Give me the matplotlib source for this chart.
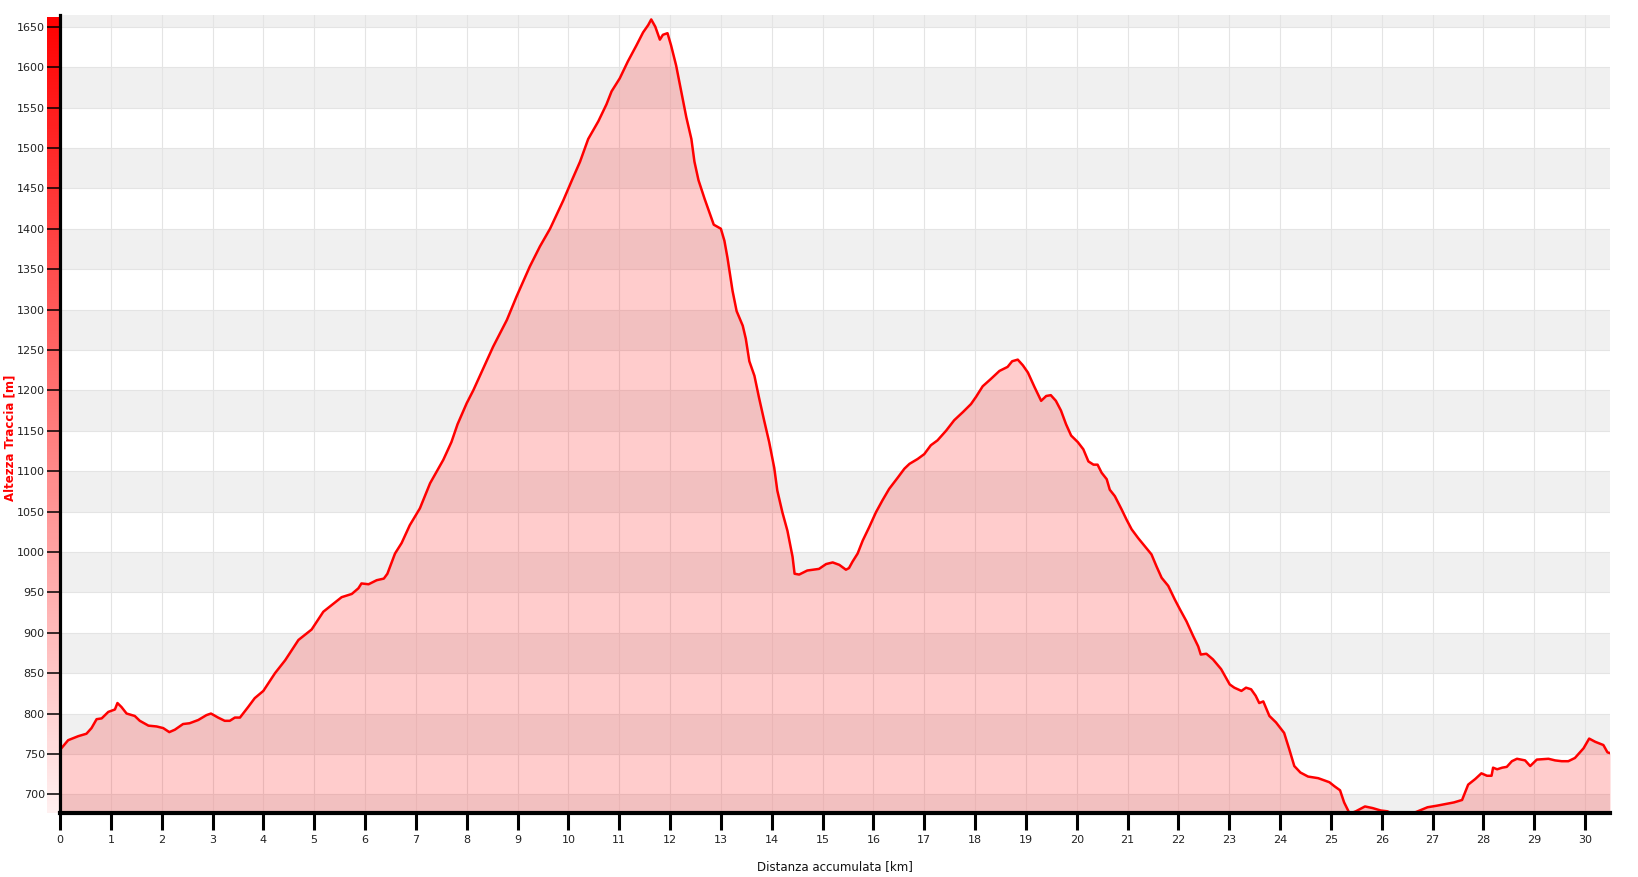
import numpy as np
import matplotlib
matplotlib.use("Agg")
import matplotlib.pyplot as plt

dist_km = [0.00, 0.16, 0.36, 0.52, 0.62, 0.72, 0.82, 0.95, 1.08, 1.13, 1.21, 1.31, 1.47, 1.57,
           1.74, 1.90, 2.03, 2.15, 2.26, 2.42, 2.55, 2.72, 2.88, 2.97, 3.11, 3.24, 3.34, 3.44,
           3.54, 3.70, 3.83, 4.00, 4.23, 4.43, 4.69, 4.95, 5.18, 5.34, 5.54, 5.74, 5.87, 5.93,
           6.07, 6.23, 6.37, 6.44, 6.59, 6.72, 6.88, 7.08, 7.28, 7.54, 7.70, 7.82, 8.00, 8.13,
           8.52, 8.79, 8.98, 9.24, 9.44, 9.64, 9.90, 10.07, 10.23, 10.39, 10.59, 10.75, 10.85,
           11.01, 11.17, 11.34, 11.47, 11.57, 11.63, 11.71, 11.80, 11.86, 11.95, 12.02, 12.12,
           12.22, 12.32, 12.42, 12.48, 12.56, 12.68, 12.78, 12.86, 13.00, 13.07, 13.13, 13.23,
           13.31, 13.43, 13.49, 13.56, 13.66, 13.75, 13.85, 13.95, 14.05, 14.11, 14.21, 14.31,
           14.41, 14.45, 14.54, 14.70, 14.93, 15.07, 15.20, 15.33, 15.46, 15.52, 15.59, 15.69,
           15.79, 15.92, 16.05, 16.18, 16.31, 16.48, 16.61, 16.71, 16.87, 17.00, 17.13, 17.26,
           17.43, 17.59, 17.76, 17.92, 18.02, 18.15, 18.31, 18.48, 18.64, 18.73, 18.84, 18.94,
           19.04, 19.17, 19.30, 19.40, 19.49, 19.59, 19.69, 19.79, 19.89, 20.02, 20.13, 20.23,
           20.33, 20.41, 20.49, 20.59, 20.65, 20.75, 20.88, 20.98, 21.08, 21.21, 21.34, 21.47,
           21.57, 21.67, 21.80, 21.93, 22.03, 22.16, 22.29, 22.39, 22.44, 22.55, 22.68, 22.84,
           23.01, 23.10, 23.24, 23.33, 23.43, 23.52, 23.59, 23.67, 23.79, 23.92, 24.08, 24.18,
           24.28, 24.40, 24.55, 24.75, 24.97, 25.07, 25.18, 25.26, 25.37, 25.49, 25.67, 25.82,
           25.98, 26.11, 26.21, 26.44, 26.67, 26.90, 27.09, 27.25, 27.42, 27.58, 27.70, 27.84,
           27.96, 28.07, 28.16, 28.19, 28.27, 28.37, 28.46, 28.56, 28.66, 28.82, 28.92, 29.05,
           29.28, 29.41, 29.54, 29.67, 29.80, 29.97, 30.08, 30.20, 30.36, 30.44, 30.49]

elev_m = [755, 767, 772, 775, 782, 793, 794, 802, 805, 813, 808, 800, 797, 791,
          785, 784, 782, 777, 780, 787, 788, 792, 798, 800, 795, 791, 791, 795,
          795, 808, 819, 828, 850, 866, 891, 904, 926, 934, 944, 948, 955, 961,
          960, 965, 967, 973, 998, 1011, 1033, 1054, 1085, 1114, 1136, 1158, 1184, 1200,
          1254, 1287, 1316, 1353, 1378, 1400, 1435, 1460, 1483, 1511, 1533, 1554, 1570,
          1586, 1607, 1627, 1643, 1652, 1659, 1650, 1634, 1640, 1642, 1627, 1602,
          1570, 1538, 1511, 1483, 1460, 1437, 1419, 1405, 1400, 1385, 1364, 1323,
          1298, 1280, 1264, 1236, 1218, 1191, 1163, 1136, 1104, 1076, 1049, 1026,
          994, 973, 972, 977, 979, 985, 987, 984, 978, 980, 988, 998,
          1014, 1031, 1049, 1064, 1078, 1092, 1103, 1109, 1115, 1121, 1132, 1138,
          1150, 1163, 1173, 1183, 1192, 1205, 1214, 1224, 1229, 1236, 1238, 1231,
          1222, 1204, 1187, 1193, 1194, 1187, 1175, 1158, 1144, 1136, 1127, 1112,
          1108, 1108, 1098, 1090, 1077, 1069, 1053, 1040, 1028, 1017, 1007, 997,
          982, 968, 958, 941, 929, 914, 896, 883, 873, 874, 867, 855,
          836, 832, 828, 832, 830, 822, 813, 815, 797, 789, 776, 756,
          735, 727, 722, 720, 715, 710, 705, 690, 676, 679, 685, 683,
          680, 679, 676, 676, 678, 684, 686, 688, 690, 693, 712, 719,
          726, 723, 723, 733, 731, 733, 734, 741, 744, 742, 735, 743,
          744, 742, 741, 741, 745, 757, 769, 765, 761, 752, 751]

x_ticks = list(range(0, 31))
y_ticks = list(range(700, 1651, 50))
x_label = "Distanza accumulata [km]"
y_label = "Altezza Traccia [m]"

W, H = 1638, 877
fig = plt.figure(figsize=(W / 100, H / 100), dpi=100)

# gradient bar left of the y axis
gax = fig.add_axes([46.5 / W, (H - 813) / H, 12.5 / W, (813 - 17) / H])
grad = np.zeros((256, 1, 4))
grad[..., 0] = 1.0
grad[:, 0, 3] = np.linspace(1.0, 0.06, 256)
gax.imshow(grad, aspect="auto", extent=[0, 1, 0, 1], origin="upper")
gax.set_axis_off()

ax = fig.add_axes([60 / W, (H - 813) / H, (1610 - 60) / W, (813 - 15) / H])
ymin, ymax = 676.9, 1664.5
ax.set_xlim(0, 30.49)
ax.set_ylim(ymin, ymax)

for lo in range(650, 1700, 100):
    ax.axhspan(lo, lo + 50, color="#f0f0f0", zorder=0, lw=0)
for yv in range(650, 1700, 50):
    ax.axhline(yv, color="#e4e4e4", lw=0.8, zorder=0.5)
for xv in x_ticks:
    ax.axvline(xv, color="#e4e4e4", lw=0.8, zorder=0.5)

ax.fill_between(dist_km, elev_m, ymin - 10, color="red", alpha=0.2, lw=0, zorder=2)
ax.plot(dist_km, elev_m, color="#ff0000", lw=1.8, zorder=3, solid_joinstyle="round")

for s in ["top", "right"]:
    ax.spines[s].set_visible(False)
ax.spines["left"].set_linewidth(2.3)
ax.spines["bottom"].set_linewidth(3.0)
ax.spines["left"].set_zorder(5)
ax.spines["bottom"].set_zorder(5)

ax.set_xticks(x_ticks)
ax.set_yticks(y_ticks)
ax.tick_params(axis="x", length=12, width=2.2, pad=4, labelsize=8, colors="black")
ax.tick_params(axis="y", length=9.5, width=1.1, pad=1.5, labelsize=8, colors="black")
for lab in ax.get_xticklabels() + ax.get_yticklabels():
    lab.set_color("#222222")

fig.text(10 / W, 1 - 438 / H, y_label, rotation=90, color="red", fontweight="bold",
         fontsize=8.5, ha="center", va="center")
fig.text(835 / W, 1 - 867 / H, x_label, color="#111111", fontsize=8.5,
         ha="center", va="center")

fig.savefig("out.png", dpi=100)
